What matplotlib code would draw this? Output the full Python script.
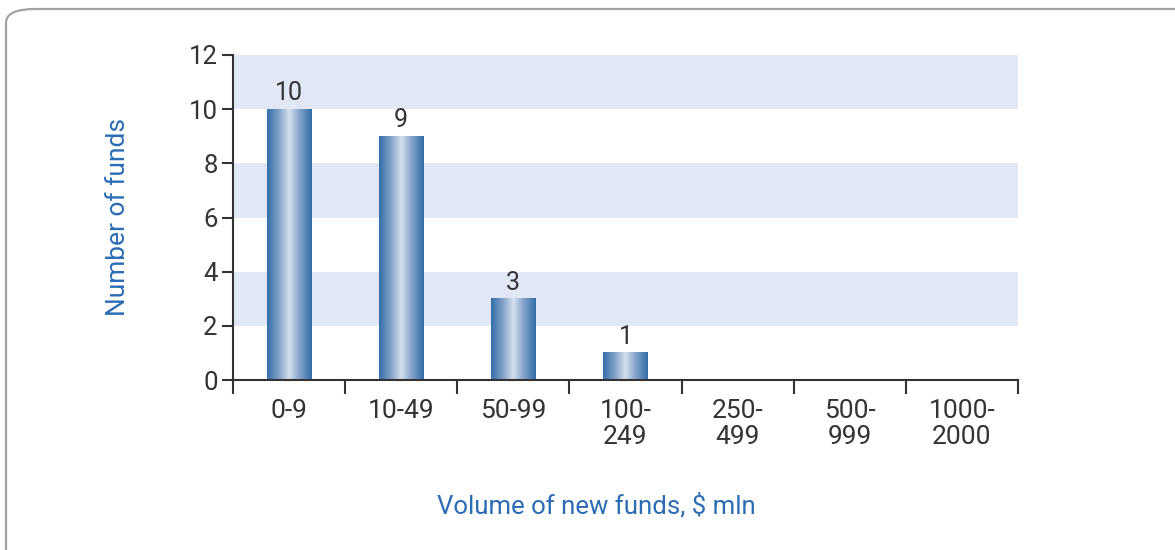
import numpy as np
import matplotlib.pyplot as plt
from matplotlib.colors import LinearSegmentedColormap
from matplotlib.patches import FancyBboxPatch

categories = ["0-9", "10-49", "50-99", "100-\n249", "250-\n499", "500-\n999", "1000-\n2000"]
funds = [10, 9, 3, 1, 0, 0, 0]
yticks = [0, 2, 4, 6, 8, 10, 12]

text_col = "#333333"
label_col = "#2a6db5"
band_col = "#e1e7f4"

plt.rcParams["font.family"] = ["Roboto", "DejaVu Sans"]

fig = plt.figure(figsize=(11.75, 5.5), dpi=100)

# rounded frame running off the right and bottom edges
frame = FancyBboxPatch((6 / 1175, -0.1), 1.2, 1 - 9 / 550 + 0.1,
                       boxstyle="round,pad=0,rounding_size=0.025",
                       transform=fig.transFigure, fc="none", ec="#a3a3a3",
                       lw=1.6, zorder=0)
fig.patches.append(frame)

ax = fig.add_axes([233 / 1175, 1 - 380 / 550, 785 / 1175, 325 / 550])
ax.set_facecolor("none")

# shaded horizontal bands
for lo in (2, 6, 10):
    ax.axhspan(lo, lo + 2, color=band_col, lw=0, zorder=0)

# cylinder-like shading across each bar
grad = LinearSegmentedColormap.from_list(
    "bar", ["#336ea7", "#7c9ec6", "#d6e0ef", "#7c9ec6", "#336ea7"])
shade = np.linspace(0, 1, 256).reshape(1, -1)
w = 0.4
x = np.arange(len(categories))
for xi, v in zip(x, funds):
    if v <= 0:
        continue
    ax.imshow(shade, cmap=grad, aspect="auto", interpolation="bilinear",
              extent=[xi - w / 2, xi + w / 2, 0, v], zorder=2)
    ax.text(xi, v + 0.15, str(v), ha="center", va="bottom",
            fontsize=18, color=text_col, zorder=3)

ax.set_xlim(-0.5, len(categories) - 0.5)
ax.set_ylim(0, 12)

for s in ("top", "right"):
    ax.spines[s].set_visible(False)
for s in ("left", "bottom"):
    ax.spines[s].set_color(text_col)
    ax.spines[s].set_linewidth(1.5)
    ax.spines[s].set_zorder(4)

ax.set_yticks(yticks)
ax.tick_params(axis="y", length=8, width=1.5, color=text_col,
               labelsize=18.5, labelcolor=text_col, pad=3)

# ticks at category boundaries, labels at category centres
ax.set_xticks(np.arange(len(categories) + 1) - 0.5)
ax.set_xticklabels([])
ax.set_xticks(x, minor=True)
ax.set_xticklabels(categories, minor=True, linespacing=1.08)
ax.tick_params(axis="x", which="major", length=10, width=1.5, color=text_col,
               direction="out")
ax.tick_params(axis="x", which="minor", length=0, labelsize=19,
               labelcolor=text_col, pad=14)
for lbl in ax.get_xticklabels(minor=True):
    lbl.set_verticalalignment("top")

ax.set_ylabel("Number of funds", fontsize=19, color=label_col, labelpad=42)
fig.text(596 / 1175, 1 - 506 / 550, "Volume of new funds, $ mln",
         ha="center", va="center", fontsize=18.5, color=label_col)

fig.savefig("out.png", dpi=100)
